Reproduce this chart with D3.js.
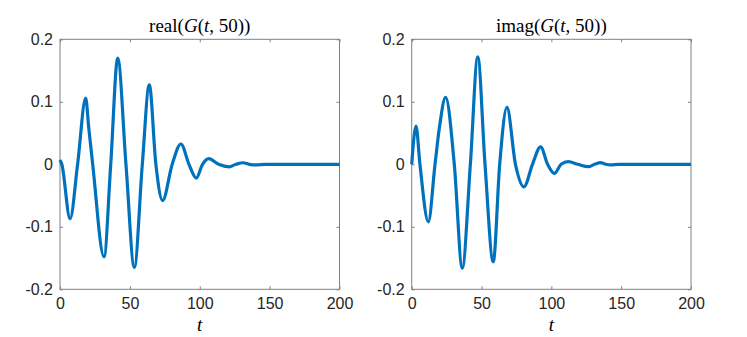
<!DOCTYPE html>
<html>
<head>
<meta charset="utf-8">
<script src="https://cdn.jsdelivr.net/npm/d3@7"></script>
<style>
  body { margin: 0; background: #fff; }
  svg { display: block; }
</style>
</head>
<body>
<script>
var w = 747;
var h = 337;

// values (extrema and zero crossings)
var tReal = [0, 1.3, 7.2, 12.6, 18.4, 20.5, 23.4, 31.5, 36.3, 41.3, 47.2, 53.2, 58.9, 63.9, 68.6, 73.4,
             80.3, 86.5, 92.3, 97.5, 102, 106.5, 113.5, 121, 126, 131, 135.5, 140, 147, 160, 180, 200];
var realVals = [0.007, 0, -0.087, 0, 0.106, 0.06, 0, -0.148, 0, 0.170, 0, -0.165, 0, 0.127, 0, -0.058,
                0, 0.0325, 0, -0.022, 0, 0.009, 0, -0.004, 0, 0.0025, 0, -0.001, 0, 0, 0, 0];

var tImag = [0, 3.1, 5.9, 11.9, 16.7, 19.8, 24.3, 30.5, 36.2, 42, 47.3, 52.5, 58.4, 63, 68.2, 74.3,
             80.4, 86.5, 92.3, 97.3, 102.1, 107, 112.1, 119, 126.4, 131, 135.1, 139, 142.3, 148, 160, 180, 200];
var imagVals = [0, 0.061, 0, -0.092, 0, 0.058, 0.107, 0, -0.166, 0, 0.172, 0, -0.156, 0, 0.091, 0,
                -0.036, 0, 0.028, 0, -0.0145, 0, 0.0042, 0, -0.0038, 0, 0.0026, 0, -0.001, 0, 0, 0, 0];

var xTicks = [0, 50, 100, 150, 200];
var yTicks = [-0.2, -0.1, 0, 0.1, 0.2];
var yTickLabels = ["-0.2", "-0.1", "0", "0.1", "0.2"];

var panels = [
  {fn: "real", t: tReal, v: realVals, x0: 60, x1: 339.5},
  {fn: "imag", t: tImag, v: imagVals, x0: 411.7, x1: 691}
];

var plotTop = 39.3, plotBottom = 289.3;

var svg = d3.select("body").append("svg")
            .attr("width", w)
            .attr("height", h);

panels.forEach(function(p) {
  var x = d3.scaleLinear().domain([0, 200]).range([p.x0, p.x1]);
  var y = d3.scaleLinear().domain([-0.2, 0.2]).range([plotBottom, plotTop]);

  var g = svg.append("g");

  // ticks on all four sides, pointing inward
  g.append("g").attr("transform", "translate(0," + plotBottom + ")")
   .call(d3.axisBottom(x).tickValues(xTicks).tickSizeInner(-3).tickSizeOuter(0).tickPadding(8));
  g.append("g").attr("transform", "translate(0," + plotTop + ")")
   .call(d3.axisTop(x).tickValues(xTicks).tickSizeInner(-3).tickSizeOuter(0).tickFormat(""));
  g.append("g").attr("transform", "translate(" + p.x0 + ",0)")
   .call(d3.axisLeft(y).tickValues(yTicks).tickSizeInner(-3).tickSizeOuter(0).tickPadding(7)
         .tickFormat(function(d, i) { return yTickLabels[i]; }));
  g.append("g").attr("transform", "translate(" + p.x1 + ",0)")
   .call(d3.axisRight(y).tickValues(yTicks).tickSizeInner(-3).tickSizeOuter(0).tickFormat(""));

  g.selectAll(".domain").remove();
  g.selectAll(".tick line").attr("stroke", "#808080").attr("stroke-width", 1);
  g.selectAll(".tick text")
   .attr("fill", "#262626")
   .style("font-family", "'Liberation Sans', Arial, sans-serif")
   .style("font-size", "16px");

  g.append("rect")
   .attr("x", p.x0).attr("y", plotTop)
   .attr("width", p.x1 - p.x0).attr("height", plotBottom - plotTop)
   .attr("fill", "none").attr("stroke", "#808080").attr("stroke-width", 1);

  var line = d3.line()
               .x(function(d, i) { return x(p.t[i]); })
               .y(function(d) { return y(d); })
               .curve(d3.curveMonotoneX);

  g.append("path")
   .datum(p.v)
   .attr("d", line)
   .attr("fill", "none")
   .attr("stroke", "#0072BD")
   .attr("stroke-width", 3.2)
   .attr("stroke-linejoin", "round");

  // title
  var cx = (p.x0 + p.x1) / 2;
  var title = g.append("text")
               .attr("x", cx).attr("y", 31.5)
               .attr("text-anchor", "middle")
               .attr("fill", "#000")
               .style("font-family", "'Liberation Serif', 'Times New Roman', serif")
               .style("font-size", "19px");
  title.append("tspan").text(p.fn + "(");
  title.append("tspan").style("font-style", "italic").text("G");
  title.append("tspan").text("(");
  title.append("tspan").style("font-style", "italic").text("t");
  title.append("tspan").text(", 50))");

  // x label
  g.append("text")
   .attr("x", cx).attr("y", 331)
   .attr("text-anchor", "middle")
   .attr("fill", "#000")
   .style("font-family", "'Liberation Serif', 'Times New Roman', serif")
   .style("font-style", "italic")
   .style("font-size", "19px")
   .text("t");
});
</script>
</body>
</html>
